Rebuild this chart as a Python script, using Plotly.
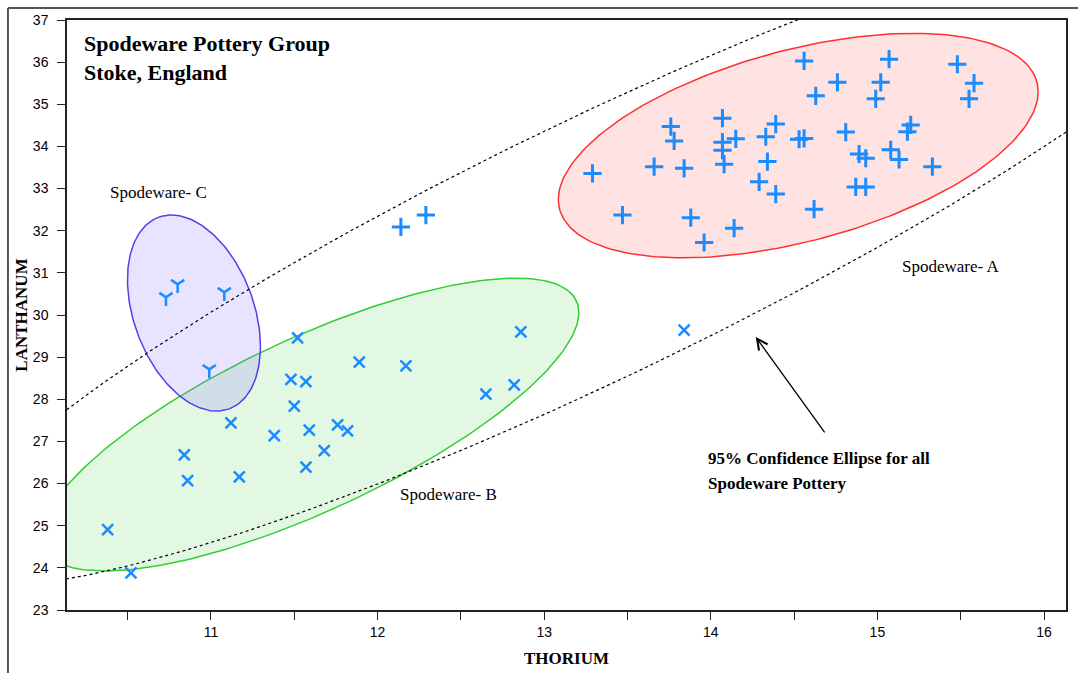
import numpy as np
import plotly.graph_objects as go

# ---------------- data ----------------
# Spodeware A (+)
a_thorium = [14.56, 15.07, 15.48, 14.76, 15.02, 15.58, 14.63, 14.99, 15.55, 14.07,
             13.76, 14.39, 13.78, 14.07, 14.15, 14.33, 14.53, 14.56, 14.81, 15.20,
             15.18, 14.07, 14.89, 14.93, 15.08, 15.13, 15.33, 13.29, 13.66, 13.84,
             14.08, 14.34, 14.29, 14.39, 14.87, 14.93, 14.62, 13.47, 13.88, 14.14,
             13.96, 12.14, 12.29]
a_lanthanum = [36.03, 36.07, 35.95, 35.52, 35.52, 35.50, 35.20, 35.13, 35.13, 34.67,
               34.47, 34.53, 34.13, 34.10, 34.18, 34.23, 34.17, 34.19, 34.34, 34.51,
               34.35, 33.91, 33.82, 33.72, 33.92, 33.69, 33.52, 33.36, 33.52, 33.48,
               33.58, 33.64, 33.16, 32.87, 33.04, 33.04, 32.51, 32.37, 32.31, 32.06,
               31.72, 32.09, 32.37]
# Spodeware B (x)
b_thorium = [11.52, 11.89, 12.17, 11.48, 11.57, 11.50, 11.12, 11.38, 11.59, 11.76,
             11.82, 10.84, 11.68, 10.86, 11.17, 11.57, 10.38, 10.52, 12.65, 12.82,
             12.86, 13.84]
b_lanthanum = [29.46, 28.88, 28.79, 28.47, 28.42, 27.84, 27.44, 27.14, 27.27, 27.39,
               27.25, 26.68, 26.78, 26.07, 26.16, 26.39, 24.91, 23.88, 28.12, 28.34,
               29.60, 29.64]
# Spodeware C (Y)
c_thorium = [10.73, 10.80, 11.08, 10.99]
c_lanthanum = [30.42, 30.73, 30.54, 28.71]

# confidence ellipses: centre x, centre y, half-extent x, half-extent y, correlation
ell_a = dict(cx=14.525, cy=34.02, sx=1.44, sy=2.663, rho=0.48)
ell_b = dict(cx=11.595, cy=27.40, sx=1.613, sy=3.474, rho=0.765)
ell_c = dict(cx=10.898, cy=30.047, sx=0.399, sy=2.326, rho=-0.34)
ell_all = dict(cx=13.335, cy=31.615, sx=3.986, sy=8.05, rho=0.908)

x_ticks = [11, 12, 13, 14, 15, 16]
y_ticks = list(range(23, 38))

MARK = "#1a8cff"
SERIF = "Liberation Serif"
SANS = "Liberation Sans"


def ellipse(p, n=240):
    t = np.linspace(0, 2 * np.pi, n)
    th = np.arccos(p["rho"])
    return p["cx"] + p["sx"] * np.cos(t), p["cy"] + p["sy"] * np.cos(t - th)


fig = go.Figure()

for p, line_c, fill_c in [
    (ell_a, "#ff3030", "rgba(255,110,110,0.20)"),
    (ell_b, "#33cc33", "rgba(90,215,90,0.17)"),
    (ell_c, "#5a3ce8", "rgba(140,120,255,0.20)"),
]:
    ex, ey = ellipse(p)
    fig.add_trace(go.Scatter(x=ex, y=ey, mode="lines", fill="toself",
                             fillcolor=fill_c, line=dict(color=line_c, width=1.5),
                             hoverinfo="skip", showlegend=False))

ex, ey = ellipse(ell_all, 400)
fig.add_trace(go.Scatter(x=ex, y=ey, mode="lines",
                         line=dict(color="black", width=1.2, dash="3px,3px"),
                         hoverinfo="skip", showlegend=False))

fig.add_trace(go.Scatter(x=a_thorium, y=a_lanthanum, mode="markers", name="Spodeware- A",
                         marker=dict(symbol="cross-thin", size=13, color=MARK,
                                     line=dict(color=MARK, width=3)), showlegend=False))
fig.add_trace(go.Scatter(x=b_thorium, y=b_lanthanum, mode="markers", name="Spodeware- B",
                         marker=dict(symbol="x-thin", size=11, color=MARK,
                                     line=dict(color=MARK, width=2.5)), showlegend=False))
fig.add_trace(go.Scatter(x=c_thorium, y=c_lanthanum, mode="markers", name="Spodeware- C",
                         marker=dict(symbol="y-down", size=11, color=MARK,
                                     line=dict(color=MARK, width=2.5)), showlegend=False))

ann = []
ann.append(dict(text="<b>Spodeware Pottery Group<br>Stoke, England</b>", xref="paper", yref="paper",
                x=0.015, y=0.985, xanchor="left", yanchor="top", align="left", showarrow=False,
                font=dict(family=SERIF, size=22, color="black")))
for txt, px_, py_ in [("Spodeware- C", 0.041, 0.7068), ("Spodeware- A", 0.834, 0.5814),
                      ("Spodeware- B", 0.3313, 0.1966)]:
    ann.append(dict(text=txt, xref="paper", yref="paper", x=px_, y=py_, xanchor="left",
                    yanchor="middle", showarrow=False, font=dict(family=SERIF, size=17, color="black")))
for txt, py_ in [("95% Confidence Ellipse for all", 0.2576), ("Spodeware Pottery", 0.2136)]:
    ann.append(dict(text="<b>" + txt + "</b>", xref="paper", yref="paper", x=0.6396, y=py_,
                    xanchor="left", yanchor="middle", showarrow=False,
                    font=dict(family=SERIF, size=17, color="black")))
ann.append(dict(x=14.27, y=29.48, ax=14.69, ay=27.18, xref="x", yref="y", axref="x", ayref="y",
                text="", showarrow=True, arrowhead=5, arrowsize=1.6, arrowwidth=1.3,
                arrowcolor="black"))

shapes = [
    dict(type="line", xref="paper", yref="paper", x0=-0.0591, x1=1.012, y0=1.0203, y1=1.0203,
         line=dict(color="#555", width=2)),
    dict(type="line", xref="paper", yref="paper", x0=-0.0591, x1=-0.0591, y0=1.0203, y1=-0.11,
         line=dict(color="#555", width=2)),
]

fig.update_layout(
    width=1078, height=673, margin=dict(l=67, r=12, t=20, b=63, autoexpand=False),
    paper_bgcolor="white", plot_bgcolor="white",
    annotations=ann, shapes=shapes,
    xaxis=dict(range=[10.136, 16.132], tickvals=x_ticks, ticks="outside", ticklen=8,
               tickcolor="#222", showgrid=False, zeroline=False, showline=True, mirror=True,
               linecolor="#222", linewidth=1.5, automargin=False,
               minor=dict(dtick=0.5, ticks="outside", ticklen=8, tickcolor="#222", showgrid=False),
               tickfont=dict(family=SANS, size=14, color="black"),
               title=dict(text="<b>THORIUM</b>", font=dict(family=SERIF, size=17, color="black"),
                          standoff=14)),
    yaxis=dict(range=[23, 37], tickvals=y_ticks, ticks="outside", ticklen=8,
               tickcolor="#222", showgrid=False, zeroline=False, showline=True, mirror=True,
               linecolor="#222", linewidth=1.5, ticklabelstandoff=6, automargin=False,
               tickfont=dict(family=SANS, size=14, color="black"),
               title=dict(text="<b>LANTHANUM</b>", font=dict(family=SERIF, size=17, color="black"),
                          standoff=1)),
)

fig.write_html("out.html")
